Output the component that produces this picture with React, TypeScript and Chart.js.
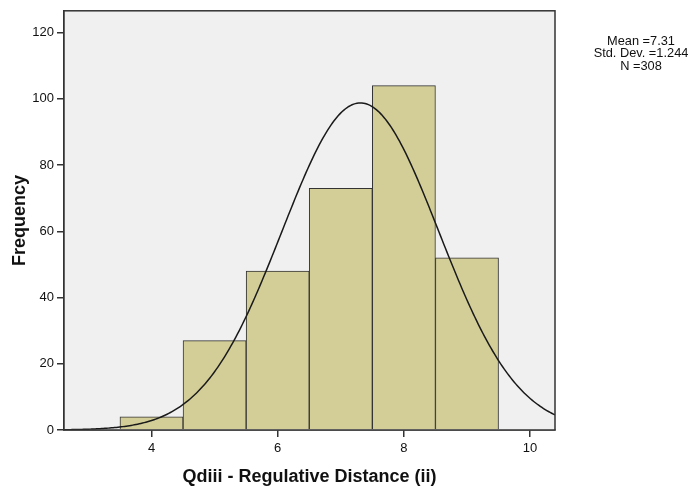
import React, { useEffect, useRef } from "react";
import { Chart, registerables } from "chart.js";

Chart.register(...registerables);

// Histogram bins (bin centres) and their counts
const binCenters = [4, 5, 6, 7, 8, 9];
const frequencies = [4, 27, 48, 73, 104, 52];

// Summary statistics shown next to the plot
const MEAN = 7.31;
const STD_DEV = 1.244;
const N = 308;
const BIN_WIDTH = 1;

const xTickValues = [4, 6, 8, 10];
const yTickValues = [0, 20, 40, 60, 80, 100, 120];

const X_MIN = 2.613;
const X_MAX = 10.395;
const Y_MAX = 126.6;

const X_TITLE = "Qdiii - Regulative Distance (ii)";
const Y_TITLE = "Frequency";
const statsLines = [`Mean =${MEAN}`, `Std. Dev. =${STD_DEV}`, `N =${N}`];

// Normal curve scaled to the histogram counts, from the stated mean / SD / N
function normalCurve() {
  const pts: { x: number; y: number }[] = [];
  const steps = 300;
  for (let i = 0; i <= steps; i++) {
    const x = X_MIN + ((X_MAX - X_MIN) * i) / steps;
    const z = (x - MEAN) / STD_DEV;
    const y = (N * BIN_WIDTH) / (STD_DEV * Math.sqrt(2 * Math.PI)) * Math.exp(-0.5 * z * z);
    pts.push({ x, y });
  }
  return pts;
}

const FONT = "'Liberation Sans', Arial, sans-serif";

const plotFrame = {
  id: "plotFrame",
  beforeDatasetsDraw(chart: any) {
    const { ctx, chartArea: a } = chart;
    ctx.save();
    ctx.fillStyle = "#f0f0f0";
    ctx.fillRect(a.left, a.top, a.right - a.left, a.bottom - a.top);
    ctx.restore();
  },
  afterDraw(chart: any) {
    const { ctx, chartArea: a } = chart;
    ctx.save();
    ctx.strokeStyle = "#333333";
    ctx.lineWidth = 1.5;
    ctx.strokeRect(a.left, a.top, a.right - a.left, a.bottom - a.top);

    // axis titles
    ctx.fillStyle = "#111111";
    ctx.font = `bold 18px ${FONT}`;
    ctx.textAlign = "center";
    ctx.textBaseline = "middle";
    ctx.fillText(X_TITLE, (a.left + a.right) / 2, 477);
    ctx.translate(20, (a.top + a.bottom) / 2);
    ctx.rotate(-Math.PI / 2);
    ctx.fillText(Y_TITLE, 0, 0);
    ctx.restore();

    // statistics box text
    ctx.save();
    ctx.fillStyle = "#111111";
    ctx.font = `12.8px ${FONT}`;
    ctx.textAlign = "center";
    ctx.textBaseline = "middle";
    statsLines.forEach((t, i) => ctx.fillText(t, 641, 41 + i * 12.6));
    ctx.restore();
  },
};

export default function App() {
  const canvasRef = useRef<HTMLCanvasElement>(null);

  useEffect(() => {
    document.body.style.margin = "0";
    const canvas = canvasRef.current!;
    const chart = new Chart(canvas, {
      type: "bar",
      data: {
        datasets: [
          {
            type: "line",
            data: normalCurve(),
            borderColor: "#1a1a1a",
            borderWidth: 1.5,
            pointRadius: 0,
            tension: 0,
            order: 0,
          } as any,
          {
            type: "bar",
            data: binCenters.map((x, i) => ({ x, y: frequencies[i] })),
            backgroundColor: "#d3ce98",
            borderColor: "#333333",
            borderWidth: 1,
            barPercentage: 1,
            categoryPercentage: 1,
            order: 1,
          } as any,
        ],
      },
      options: {
        animation: false,
        responsive: false,
        events: [],
        layout: { padding: { top: 8, right: 141, left: 0, bottom: 0 } },
        plugins: { legend: { display: false }, tooltip: { enabled: false } },
        scales: {
          x: {
            type: "linear",
            min: X_MIN,
            max: X_MAX,
            offset: false,
            afterBuildTicks: (s: any) => {
              s.ticks = xTickValues.map((v) => ({ value: v }));
            },
            afterFit: (s: any) => {
              s.height = 62;
            },
            grid: {
              display: true,
              offset: false,
              drawOnChartArea: false,
              drawTicks: true,
              tickLength: 7,
              color: "#333333",
              lineWidth: 1.5,
            },
            border: { display: true, color: "#333333", width: 1.5 },
            ticks: {
              color: "#111111",
              font: { family: FONT, size: 13 },
              padding: 4,
              maxRotation: 0,
              callback: (v: any) => String(v),
            },
          },
          y: {
            type: "linear",
            min: 0,
            max: Y_MAX,
            afterBuildTicks: (s: any) => {
              s.ticks = yTickValues.map((v) => ({ value: v }));
            },
            afterFit: (s: any) => {
              s.width = 64;
            },
            grid: {
              display: true,
              offset: false,
              drawOnChartArea: false,
              drawTicks: true,
              tickLength: 7,
              color: "#333333",
              lineWidth: 1.5,
            },
            border: { display: true, color: "#333333", width: 1.5 },
            ticks: {
              color: "#111111",
              font: { family: FONT, size: 13 },
              padding: 3,
              callback: (v: any) => String(v),
            },
          },
        },
      },
      plugins: [plotFrame],
    });
    return () => chart.destroy();
  }, []);

  return (
    <div style={{ position: "absolute", left: 0, top: 0, width: 696, height: 492, background: "#ffffff" }}>
      <canvas ref={canvasRef} width={696} height={492} style={{ width: 696, height: 492 }} />
    </div>
  );
}
